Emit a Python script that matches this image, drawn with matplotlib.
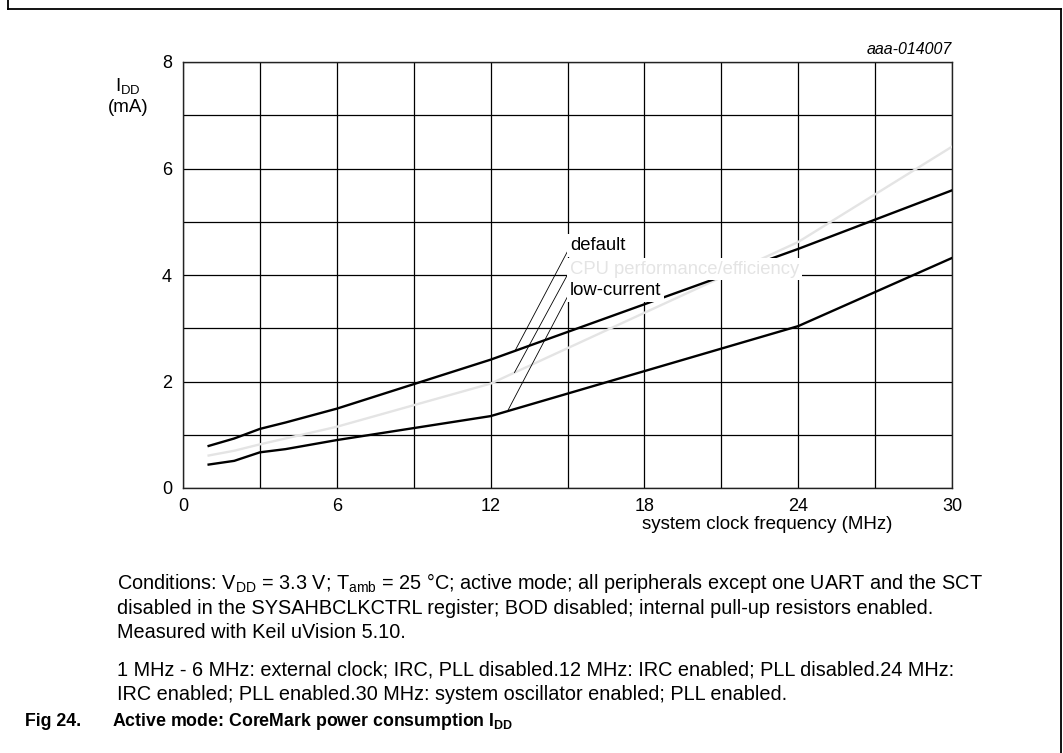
import numpy as np
import matplotlib
matplotlib.use('Agg')
import matplotlib.pyplot as plt
from matplotlib.lines import Line2D

plt.rcParams['font.family'] = ['Liberation Sans', 'DejaVu Sans']
plt.rcParams['mathtext.fontset'] = 'custom'
plt.rcParams['mathtext.rm'] = 'Liberation Sans'
plt.rcParams['mathtext.it'] = 'Liberation Sans:italic'
plt.rcParams['mathtext.bf'] = 'Liberation Sans:bold'

# clock frequency (MHz) and supply current (mA)
freq = [1, 2, 3, 4, 6, 12, 24, 30]
idd_default = [0.79, 0.93, 1.11, 1.23, 1.49, 2.41, 4.49, 5.59]
idd_cpu_perf = [0.61, 0.70, 0.82, 0.93, 1.15, 1.96, 4.62, 6.41]
idd_low_current = [0.44, 0.51, 0.67, 0.73, 0.90, 1.35, 3.04, 4.32]

x_ticks = list(range(0, 31, 3))
x_ticklabels = ['0', '', '6', '', '12', '', '18', '', '24', '', '30']
y_ticks = list(range(0, 9))
y_ticklabels = ['0', '', '2', '', '4', '', '6', '', '8']

W, H = 1063, 753
fig = plt.figure(figsize=(W / 100, H / 100), dpi=100)

# outer frame (left, top, right)
for xs, ys in [([8, 8], [0, 9]), ([8, 1061], [9, 9]), ([1061, 1061], [9, 753])]:
    fig.add_artist(Line2D([x / W for x in xs], [1 - y / H for y in ys],
                          color='black', lw=1.3, transform=fig.transFigure))

ax = fig.add_axes([183 / W, 1 - 488 / H, 769 / W, 426 / H])
ax.set_xlim(0, 30)
ax.set_ylim(0, 8)
ax.set_xticks(x_ticks)
ax.set_xticklabels(x_ticklabels)
ax.set_yticks(y_ticks)
ax.set_yticklabels(y_ticklabels)
ax.tick_params(length=0, labelsize=13)
ax.tick_params(axis='x', pad=7)
ax.tick_params(axis='y', pad=8)
ax.grid(True, color='black', lw=0.9)
for s in ax.spines.values():
    s.set_linewidth(1.0)
    s.set_color('#222222')

ax.plot(freq, idd_cpu_perf, color='#e4e4e4', lw=1.7, zorder=3)
ax.plot(freq, idd_default, color='black', lw=1.7, zorder=3)
ax.plot(freq, idd_low_current, color='black', lw=1.7, zorder=3)

box = dict(facecolor='white', edgecolor='none', pad=2)
arrow = dict(arrowstyle='-', lw=0.6, color='black', relpos=(0, 0.45),
             shrinkA=0, shrinkB=0)
ax.annotate('default', xy=(12.95, np.interp(12.95, freq, idd_default)),
            xytext=(15.1, 4.55), ha='left', va='center', fontsize=13.3,
            bbox=box, arrowprops=arrow, zorder=5)
ax.annotate('CPU performance/efficiency',
            xy=(12.93, np.interp(12.93, freq, idd_cpu_perf)),
            xytext=(15.1, 4.11), ha='left', va='center', fontsize=13.3,
            color='#e4e4e4', bbox=box, arrowprops=arrow, zorder=5)
ax.annotate('low-current', xy=(12.66, np.interp(12.66, freq, idd_low_current)),
            xytext=(15.1, 3.70), ha='left', va='center', fontsize=13.3,
            bbox=box, arrowprops=arrow, zorder=5)

ax.text(1.0, 1.012, 'aaa-014007', transform=ax.transAxes, ha='right',
        va='bottom', fontsize=11.5, style='italic')
ax.text(17.9, -0.53, 'system clock frequency (MHz)', ha='left', va='top',
        fontsize=13.5)
fig.text(128 / W, 1 - 86 / H, 'I$_{\\mathrm{DD}}$', ha='center',
         va='center', fontsize=13.5)
fig.text(128 / W, 1 - 107 / H, '(mA)', ha='center', va='center',
         fontsize=13.5)

lines = [
    (583, 'Conditions: V$_{\\mathrm{DD}}$ = 3.3 V; T$_{\\mathrm{amb}}$ = 25 \u00b0C; '
          'active mode; all peripherals except one UART and the SCT'),
    (608, 'disabled in the SYSAHBCLKCTRL register; BOD disabled; internal '
          'pull-up resistors enabled.'),
    (632, 'Measured with Keil uVision 5.10.'),
    (670, '1 MHz - 6 MHz: external clock; IRC, PLL disabled.12 MHz: IRC '
          'enabled; PLL disabled.24 MHz:'),
    (694, 'IRC enabled; PLL enabled.30 MHz: system oscillator enabled; '
          'PLL enabled.'),
]
for y, t in lines:
    fig.text(117 / W, 1 - y / H, t, ha='left', va='center', fontsize=14.3)

fig.text(25 / W, 1 - 721 / H, 'Fig 24.', ha='left', va='center',
         fontsize=12.8, fontweight='bold')
fig.text(112 / W, 1 - 721 / H,
         'Active mode: CoreMark power consumption I$_{\\mathbf{DD}}$',
         ha='left', va='center', fontsize=12.8, fontweight='bold')

fig.savefig('out.png', dpi=100)
